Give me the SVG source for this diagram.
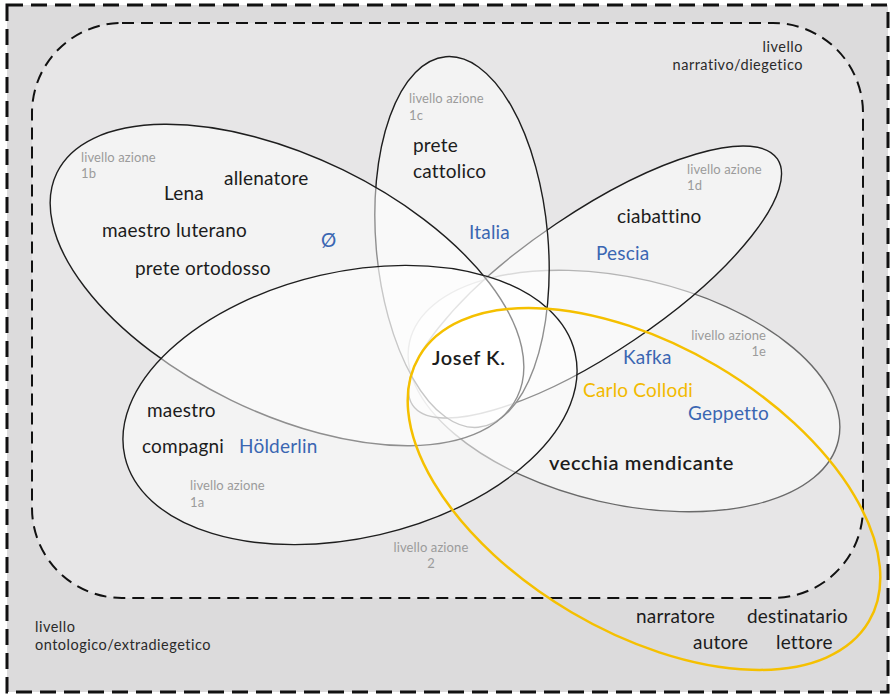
<svg xmlns="http://www.w3.org/2000/svg" width="892" height="696" viewBox="0 0 892 696">
<style>
.t{font-family:Lato,"Noto Sans",sans-serif;font-size:19px;letter-spacing:0.2px;fill:#1c1c1c}
.b{fill:#3a66b2}
.y{fill:#f2ba00}
.g{font-family:Lato,"Noto Sans",sans-serif;font-size:13px;letter-spacing:0.1px;fill:#9b9b9b}
.lv{font-family:Lato,"Noto Sans",sans-serif;font-size:14.5px;letter-spacing:0.5px;fill:#2a2a2a}
.bold{font-weight:600;font-size:20px;letter-spacing:0.6px}
.el{fill:#ffffff;fill-opacity:0.5;stroke:#1e1e1e;stroke-width:1.4}
</style>
<rect width="892" height="696" fill="#ffffff"/>
<g id="ontologico">
<rect x="7" y="5" width="881" height="687" fill="#dcdbdc" stroke="#111" stroke-width="3" stroke-dasharray="16 8"/>
<text class="lv" x="35" y="632">livello</text>
<text class="lv" x="35" y="650">ontologico/extradiegetico</text>
</g>
<g id="narrativo">
<rect x="32" y="23" width="831" height="575" rx="90" ry="90" fill="#e7e6e7" stroke="#111" stroke-width="2" stroke-dasharray="12 7"/>
<text class="lv" x="803" y="52" text-anchor="end">livello</text>
<text class="lv" x="803" y="70" text-anchor="end">narrativo/diegetico</text>
</g>
<g id="ellipses">
<ellipse id="e1e" class="el" cx="624" cy="391" rx="220" ry="113" transform="rotate(13 624 391)" style="stroke:#6a6a6a"/>
<ellipse id="e1d" class="el" cx="595" cy="282" rx="220" ry="70" transform="rotate(-34 595 282)"/>
<ellipse id="e1c" class="el" cx="462" cy="242" rx="86" ry="186" transform="rotate(-5 462 242)"/>
<ellipse id="e1b" class="el" cx="287" cy="285" rx="256" ry="128" transform="rotate(26 287 285)"/>
<ellipse id="e1a" class="el" cx="350" cy="405" rx="231" ry="133" transform="rotate(-13 350 405)"/>
<ellipse id="e2" cx="644" cy="489" rx="261" ry="143" transform="rotate(30.5 644 489)" fill="none" stroke="#f5c000" stroke-width="2.5"/>
</g>
<g id="n1b">
<text class="g" x="81" y="162">livello azione</text>
<text class="g" x="81" y="178">1b</text>
<text class="t" x="224" y="185">allenatore</text>
<text class="t" x="164" y="200">Lena</text>
<text class="t" x="102" y="237">maestro luterano</text>
<text class="t b" x="321" y="247">Ø</text>
<text class="t" x="135" y="275">prete ortodosso</text>
</g>
<g id="n1c">
<text class="g" x="409" y="103">livello azione</text>
<text class="g" x="409" y="120">1c</text>
<text class="t" x="413" y="152">prete</text>
<text class="t" x="413" y="178">cattolico</text>
<text class="t b" x="469" y="239">Italia</text>
</g>
<g id="n1d">
<text class="g" x="687" y="174">livello azione</text>
<text class="g" x="687" y="190">1d</text>
<text class="t" x="617" y="223">ciabattino</text>
<text class="t b" x="596" y="260">Pescia</text>
</g>
<g id="n1e">
<text class="g" x="766" y="340" text-anchor="end">livello azione</text>
<text class="g" x="766" y="356" text-anchor="end">1e</text>
<text class="t b" x="623" y="364">Kafka</text>
<text class="t b" x="688" y="420">Geppetto</text>
<text class="t bold" x="549" y="470">vecchia mendicante</text>
</g>
<g id="centro">
<text class="t bold" x="432" y="365">Josef K.</text>
</g>
<g id="n1a">
<text class="t" x="147" y="417">maestro</text>
<text class="t" x="142" y="453">compagni</text>
<text class="t b" x="239" y="453">Hölderlin</text>
<text class="g" x="190" y="490">livello azione</text>
<text class="g" x="190" y="507">1a</text>
</g>
<g id="n2">
<text class="g" x="431" y="552" text-anchor="middle">livello azione</text>
<text class="g" x="431" y="568" text-anchor="middle">2</text>
<text class="t y" x="583" y="397">Carlo Collodi</text>
<text class="t" x="636" y="623">narratore</text>
<text class="t" x="747" y="623">destinatario</text>
<text class="t" x="693" y="649">autore</text>
<text class="t" x="776" y="649">lettore</text>
</g>
</svg>
